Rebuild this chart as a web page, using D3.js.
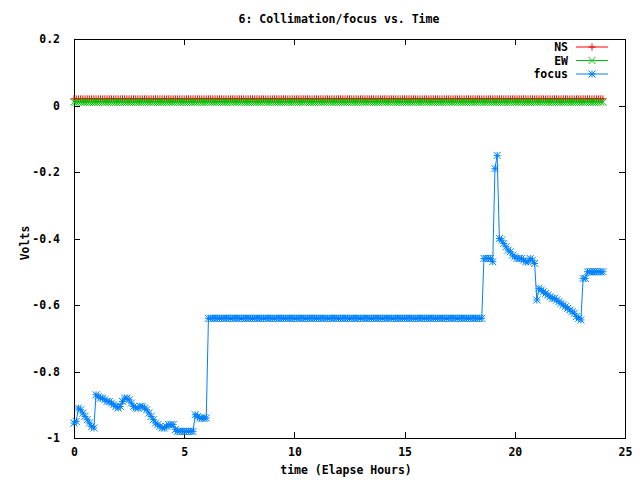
<!DOCTYPE html>
<html><head><meta charset="utf-8">
<script src="https://cdn.jsdelivr.net/npm/d3@7/dist/d3.min.js"></script>
<style>
body{margin:0;background:#fff;}
text{font-family:"DejaVu Sans Mono","Liberation Mono",monospace;font-weight:bold;font-size:11.5px;fill:#000;}
</style></head>
<body><svg id="c" width="640" height="480"></svg>
<script>
const title = "6: Collimation/focus vs. Time";
const xLabel = "time (Elapse Hours)";
const yLabel = "Volts";
const xTicks = [0,5,10,15,20,25];
const yTicks = [0.2,0,-0.2,-0.4,-0.6,-0.8,-1];
const seriesNames = ["NS","EW","focus"];
const sampleStep = 0.1; // hours between samples
const ns = [
0.02,0.02,0.02,0.02,0.02,0.02,0.02,0.02,0.02,0.02,0.02,0.02,0.02,0.02,0.02,0.02,0.02,0.02,0.02,0.02,
0.02,0.02,0.02,0.02,0.02,0.02,0.02,0.02,0.02,0.02,0.02,0.02,0.02,0.02,0.02,0.02,0.02,0.02,0.02,0.02,
0.02,0.02,0.02,0.02,0.02,0.02,0.02,0.02,0.02,0.02,0.02,0.02,0.02,0.02,0.02,0.02,0.02,0.02,0.02,0.02,
0.02,0.02,0.02,0.02,0.02,0.02,0.02,0.02,0.02,0.02,0.02,0.02,0.02,0.02,0.02,0.02,0.02,0.02,0.02,0.02,
0.02,0.02,0.02,0.02,0.02,0.02,0.02,0.02,0.02,0.02,0.02,0.02,0.02,0.02,0.02,0.02,0.02,0.02,0.02,0.02,
0.02,0.02,0.02,0.02,0.02,0.02,0.02,0.02,0.02,0.02,0.02,0.02,0.02,0.02,0.02,0.02,0.02,0.02,0.02,0.02,
0.02,0.02,0.02,0.02,0.02,0.02,0.02,0.02,0.02,0.02,0.02,0.02,0.02,0.02,0.02,0.02,0.02,0.02,0.02,0.02,
0.02,0.02,0.02,0.02,0.02,0.02,0.02,0.02,0.02,0.02,0.02,0.02,0.02,0.02,0.02,0.02,0.02,0.02,0.02,0.02,
0.02,0.02,0.02,0.02,0.02,0.02,0.02,0.02,0.02,0.02,0.02,0.02,0.02,0.02,0.02,0.02,0.02,0.02,0.02,0.02,
0.02,0.02,0.02,0.02,0.02,0.02,0.02,0.02,0.02,0.02,0.02,0.02,0.02,0.02,0.02,0.02,0.02,0.02,0.02,0.02,
0.02,0.02,0.02,0.02,0.02,0.02,0.02,0.02,0.02,0.02,0.02,0.02,0.02,0.02,0.02,0.02,0.02,0.02,0.02,0.02,
0.02,0.02,0.02,0.02,0.02,0.02,0.02,0.02,0.02,0.02,0.02,0.02,0.02,0.02,0.02,0.02,0.02,0.02,0.02,0.02,
0.02];
const ew = [
0.01,0.01,0.01,0.01,0.01,0.01,0.01,0.01,0.01,0.01,0.01,0.01,0.01,0.01,0.01,0.01,0.01,0.01,0.01,0.01,
0.01,0.01,0.01,0.01,0.01,0.01,0.01,0.01,0.01,0.01,0.01,0.01,0.01,0.01,0.01,0.01,0.01,0.01,0.01,0.01,
0.01,0.01,0.01,0.01,0.01,0.01,0.01,0.01,0.01,0.01,0.01,0.01,0.01,0.01,0.01,0.01,0.01,0.01,0.01,0.01,
0.01,0.01,0.01,0.01,0.01,0.01,0.01,0.01,0.01,0.01,0.01,0.01,0.01,0.01,0.01,0.01,0.01,0.01,0.01,0.01,
0.01,0.01,0.01,0.01,0.01,0.01,0.01,0.01,0.01,0.01,0.01,0.01,0.01,0.01,0.01,0.01,0.01,0.01,0.01,0.01,
0.01,0.01,0.01,0.01,0.01,0.01,0.01,0.01,0.01,0.01,0.01,0.01,0.01,0.01,0.01,0.01,0.01,0.01,0.01,0.01,
0.01,0.01,0.01,0.01,0.01,0.01,0.01,0.01,0.01,0.01,0.01,0.01,0.01,0.01,0.01,0.01,0.01,0.01,0.01,0.01,
0.01,0.01,0.01,0.01,0.01,0.01,0.01,0.01,0.01,0.01,0.01,0.01,0.01,0.01,0.01,0.01,0.01,0.01,0.01,0.01,
0.01,0.01,0.01,0.01,0.01,0.01,0.01,0.01,0.01,0.01,0.01,0.01,0.01,0.01,0.01,0.01,0.01,0.01,0.01,0.01,
0.01,0.01,0.01,0.01,0.01,0.01,0.01,0.01,0.01,0.01,0.01,0.01,0.01,0.01,0.01,0.01,0.01,0.01,0.01,0.01,
0.01,0.01,0.01,0.01,0.01,0.01,0.01,0.01,0.01,0.01,0.01,0.01,0.01,0.01,0.01,0.01,0.01,0.01,0.01,0.01,
0.01,0.01,0.01,0.01,0.01,0.01,0.01,0.01,0.01,0.01,0.01,0.01,0.01,0.01,0.01,0.01,0.01,0.01,0.01,0.01,
0.01];
const focus = [
-0.955,-0.95,-0.91,-0.915,-0.925,-0.935,-0.945,-0.955,-0.965,-0.97,
-0.87,-0.875,-0.88,-0.88,-0.885,-0.89,-0.89,-0.895,-0.9,-0.905,
-0.91,-0.905,-0.89,-0.88,-0.88,-0.885,-0.895,-0.905,-0.91,-0.91,
-0.905,-0.905,-0.91,-0.915,-0.925,-0.935,-0.945,-0.955,-0.96,-0.965,
-0.97,-0.97,-0.965,-0.96,-0.96,-0.96,-0.975,-0.98,-0.98,-0.98,
-0.98,-0.98,-0.98,-0.98,-0.98,-0.93,-0.935,-0.94,-0.94,-0.94,
-0.94,
-0.64,-0.64,-0.64,-0.64,-0.64,-0.64,-0.64,-0.64,-0.64,-0.64,-0.64,-0.64,-0.64,-0.64,-0.64,-0.64,-0.64,-0.64,-0.64,-0.64,
-0.64,-0.64,-0.64,-0.64,-0.64,-0.64,-0.64,-0.64,-0.64,-0.64,-0.64,-0.64,-0.64,-0.64,-0.64,-0.64,-0.64,-0.64,-0.64,-0.64,
-0.64,-0.64,-0.64,-0.64,-0.64,-0.64,-0.64,-0.64,-0.64,-0.64,-0.64,-0.64,-0.64,-0.64,-0.64,-0.64,-0.64,-0.64,-0.64,-0.64,
-0.64,-0.64,-0.64,-0.64,-0.64,-0.64,-0.64,-0.64,-0.64,-0.64,-0.64,-0.64,-0.64,-0.64,-0.64,-0.64,-0.64,-0.64,-0.64,-0.64,
-0.64,-0.64,-0.64,-0.64,-0.64,-0.64,-0.64,-0.64,-0.64,-0.64,-0.64,-0.64,-0.64,-0.64,-0.64,-0.64,-0.64,-0.64,-0.64,-0.64,
-0.64,-0.64,-0.64,-0.64,-0.64,-0.64,-0.64,-0.64,-0.64,-0.64,-0.64,-0.64,-0.64,-0.64,-0.64,-0.64,-0.64,-0.64,-0.64,-0.64,
-0.64,-0.64,-0.64,-0.64,-0.64,
-0.46,-0.46,-0.46,-0.46,-0.47,
-0.19,-0.15,-0.40,-0.405,-0.415,-0.425,-0.435,-0.44,-0.45,
-0.455,-0.46,-0.46,-0.46,-0.465,-0.47,-0.47,-0.46,-0.465,-0.475,
-0.585,-0.55,-0.555,-0.56,-0.565,-0.57,-0.575,-0.58,-0.58,-0.585,
-0.59,-0.595,-0.6,-0.605,-0.61,-0.615,-0.62,-0.625,-0.635,-0.64,
-0.645,-0.52,-0.52,-0.5,-0.5,-0.5,-0.5,-0.5,-0.5,-0.5,
-0.5];
const colors = ["#ff0000","#00c000","#0080ff"];

const svg = d3.select("#c");
const L=74,R=625,T=39,B=438;
const x = d3.scaleLinear().domain([0,25]).range([L,R]);
const y = d3.scaleLinear().domain([-1,0.2]).range([B,T]);

// markers
const S=3.5;
const markers = {
  plus: `M${-S},0H${S}M0,${-S}V${S}`,
  cross: `M${-S},${-S}L${S},${S}M${-S},${S}L${S},${-S}`,
  star: `M${-S},0H${S}M0,${-S}V${S}M${-S},${-S}L${S},${S}M${-S},${S}L${S},${-S}`
};
const mk = ["plus","cross","star"];

const series = [ns,ew,focus].map((vals,i)=>({name:seriesNames[i],color:colors[i],marker:mk[i],
  pts: vals.map((v,j)=>({t:+(j*sampleStep).toFixed(1),v}))}));

// axes (ticks inward, mirrored)
const g = svg.append("g").attr("shape-rendering","crispEdges");
const ax = (sel)=>sel.call(s=>s.select(".domain").remove()).selectAll("line").attr("stroke","#000");
g.append("g").attr("transform",`translate(0,${B})`)
  .call(d3.axisBottom(x).tickValues(xTicks).tickSize(-6).tickPadding(10).tickFormat(d3.format("d"))).call(ax);
g.append("g").attr("transform",`translate(0,${T})`)
  .call(d3.axisTop(x).tickValues(xTicks).tickSize(-6).tickFormat("")).call(ax);
g.append("g").attr("transform",`translate(${L},0)`)
  .call(d3.axisLeft(y).tickValues(yTicks).tickSize(-6).tickPadding(14).tickFormat(d=>d3.format("")(+d.toFixed(1)).replace("−","-"))).call(ax);
g.append("g").attr("transform",`translate(${R},0)`)
  .call(d3.axisRight(y).tickValues(yTicks).tickSize(-6).tickFormat("")).call(ax);
svg.selectAll(".tick text").attr("font-family",null).attr("font-size",null).style("fill","#000");
g.append("rect").attr("x",L).attr("y",T).attr("width",R-L).attr("height",B-T)
  .attr("fill","none").attr("stroke","#000");

// data
const line = d3.line().x(d=>x(d.t)).y(d=>y(d.v));
series.forEach(s=>{
  const sg = svg.append("g");
  sg.append("path").datum(s.pts).attr("d",line).attr("fill","none").attr("stroke",s.color).attr("stroke-width",1);
  sg.selectAll("path.m").data(s.pts).join("path").attr("class","m")
    .attr("transform",d=>`translate(${x(d.t)},${y(d.v)})`)
    .attr("d",markers[s.marker]).attr("stroke",s.color).attr("stroke-width",1).attr("fill","none");
});

// legend
series.forEach((s,i)=>{
  const ly = 47 + i*13.5;
  svg.append("text").attr("x",568).attr("y",ly).attr("dy","0.35em").attr("text-anchor","end").text(s.name);
  svg.append("line").attr("x1",576).attr("x2",608).attr("y1",ly).attr("y2",ly).attr("stroke",s.color);
  svg.append("path").attr("transform",`translate(592,${ly})`).attr("d",markers[s.marker]).attr("stroke",s.color).attr("fill","none");
});

// labels
svg.append("text").attr("x",339).attr("y",19).attr("dy","0.35em").attr("text-anchor","middle").text(title);
svg.append("text").attr("x",346).attr("y",470).attr("dy","0.35em").attr("text-anchor","middle").text(xLabel);
svg.append("text").attr("transform","translate(25,243) rotate(-90)").attr("dy","0.35em").attr("text-anchor","middle").text(yLabel);
</script></body></html>
